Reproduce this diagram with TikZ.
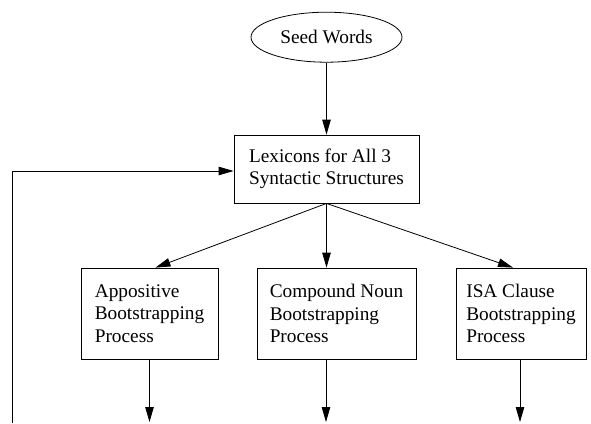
\documentclass[tikz,border=0pt]{standalone}
\usepackage{fontspec}
\setmainfont{Liberation Serif}
\usepackage{tikz}
\usetikzlibrary{positioning,arrows.meta,shapes.geometric}

\begin{document}
\begin{tikzpicture}[x=1pt,y=-1pt,
    font=\fontsize{19.3}{22.5}\selectfont,
    every path/.style={line width=0.8pt},
    arr/.style={-{Triangle[length=15pt,width=8.5pt]}},
    procbox/.style={draw,rectangle,align=left,inner sep=0pt,minimum height=91pt}]
  \useasboundingbox (0,0) rectangle (591,423);

  \node[draw,rectangle,align=left,inner sep=0pt,minimum width=185pt,minimum height=68pt] (lex) at (326.5,169) {Lexicons for All 3\\Syntactic Structures};
  \node[draw,ellipse,inner sep=0pt,minimum width=151pt,minimum height=50pt,above=72pt of lex] (seed) {Seed Words};

  \node[procbox,minimum width=137pt] (app) at (149.5,313.5) {Appositive\\Bootstrapping\\Process};
  \node[procbox,minimum width=159pt] (comp) at (336.5,313.5) {Compound Noun\\Bootstrapping\\Process};
  \node[procbox,minimum width=130pt] (isa) at (521,313.5) {ISA Clause\\Bootstrapping\\Process};

  \coordinate (appout) at (149.5,422);
  \coordinate (compout) at (326,422);
  \coordinate (isaout) at (520,422);
  \coordinate (loop) at (12,423);

  %seed>lex
  \draw[arr] (seed.south) -- (lex.north);

  %lex>boxes
  \draw[arr] (lex.south) -- ([xshift=6pt]app.north);
  \draw[arr] (lex.south) -- (lex.south |- comp.north);
  \draw[arr] (lex.south) -- ([xshift=-8pt]isa.north);

  %boxes>out
  \draw[arr] (app.south |- app.south) -- (appout);
  \draw[arr] (compout |- comp.south) -- (compout);
  \draw[arr] (isaout |- isa.south) -- (isaout);

  %loop>lex
  \draw[arr] (loop) |- ([yshift=-2pt]lex.west);
\end{tikzpicture}
\end{document}
